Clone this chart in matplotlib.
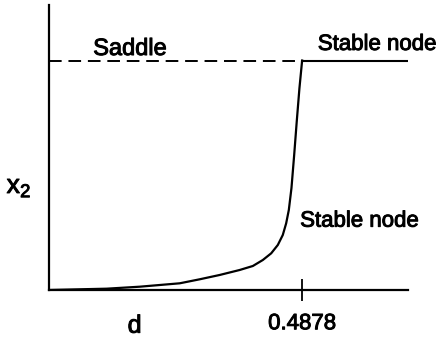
import matplotlib
matplotlib.use("Agg")
import matplotlib.pyplot as plt
import matplotlib.patheffects as pe

plt.rcParams['font.family'] = ['Liberation Sans', 'DejaVu Sans']

# Data
d_crit = 0.4878
saddle_level = 1.0
d_lower = [0, 0.1117, 0.1756, 0.2524, 0.2907, 0.3291, 0.3675, 0.3930, 0.4122,
           0.4283, 0.4410, 0.4506, 0.4571, 0.4622, 0.4673, 0.4725, 0.4774,
           0.4826, 0.4878]
x2_lower = [0, 0.0057, 0.0144, 0.0292, 0.0466, 0.0654, 0.0871, 0.1046, 0.1307,
            0.1599, 0.1961, 0.2397, 0.2906, 0.3486, 0.4444, 0.5882, 0.7333,
            0.8789, 1.0]
d_saddle = [0, d_crit]
x2_saddle = [saddle_level, saddle_level]
d_upper = [d_crit, 0.70]
x2_upper = [saddle_level, saddle_level]
tick_positions = [d_crit]
tick_labels = ["0.4878"]

stroke = [pe.withStroke(linewidth=0.7, foreground='black')]

fig = plt.figure(figsize=(4.4, 3.39), dpi=100)
ax = fig.add_axes([48.5/440, 49/339, (408.3-48.5)/440, 285/339])

ax.plot(d_lower, x2_lower, color='black', lw=1.6, solid_joinstyle='round')
ax.plot(d_saddle, x2_saddle, color='black', lw=1.4, linestyle=(0, (6.5, 3.5)))
ax.plot(d_upper, x2_upper, color='black', lw=1.5)

ax.set_xlim(0, 0.692)
ax.set_ylim(0, 1.242)

for s in ['top', 'right']:
    ax.spines[s].set_visible(False)
for s in ['left', 'bottom']:
    ax.spines[s].set_linewidth(1.6)

ax.set_yticks([])
ax.set_xticks(tick_positions)
ax.set_xticklabels(tick_labels, fontsize=16)
for lbl in ax.get_xticklabels():
    lbl.set_path_effects(stroke)
ax.tick_params(axis='x', direction='inout', length=15.5, width=1.3, pad=9)

ax.text(0.157, 1.024, "Saddle", fontsize=17, ha='center', va='baseline', path_effects=stroke)
ax.text(0.518, 1.046, "Stable node", fontsize=16, ha='left', va='baseline', path_effects=stroke)
ax.text(0.484, 0.276, "Stable node", fontsize=16, ha='left', va='baseline', path_effects=stroke)
ax.text(0.1655, -0.186, "d", fontsize=18, ha='center', va='baseline', path_effects=stroke)
fig.text(19/440, 1 - 193/339, r"$\mathregular{x_2}$", fontsize=19, ha='center', va='baseline',
         path_effects=stroke)

fig.savefig("out.png", dpi=100)
